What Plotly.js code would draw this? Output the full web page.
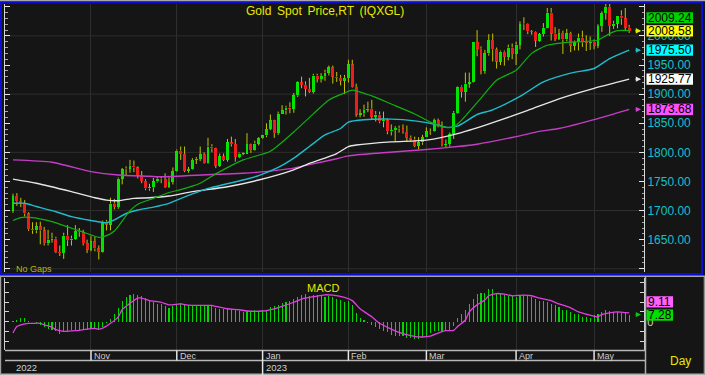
<!DOCTYPE html>
<html>
<head>
<meta charset="utf-8">
<script src="https://cdn.plot.ly/plotly-3.0.1.min.js"></script>
<style>html,body{margin:0;padding:0;background:#151515;overflow:hidden}#chart{width:705px;height:375px}</style>
</head>
<body>
<div id="chart"></div>
<script>
// ---------------- data ----------------
const firstDay = '2022-10-04';
const lastDay = '2023-05-12';

const open = [1700,1725,1716,1712,1695,1668,1666,1673,1666,1644,
1650,1652,1629,1627,1657,1649,1652,1665,1663,1644,
1633,1647,1635,1629,1681,1676,1712,1706,1755,1771,
1772,1777,1774,1761,1751,1738,1740,1750,1755,1754,
1741,1749,1768,1803,1797,1768,1771,1787,1789,1797,
1781,1810,1807,1777,1793,1787,1817,1814,1792,1798,
1798,1814,1804,1815,1824,1829,1840,1855,1833,1866,
1872,1877,1875,1898,1920,1916,1909,1904,1932,1926,
1931,1937,1946,1930,1928,1923,1928,1951,1912,1865,
1867,1873,1875,1861,1865,1853,1855,1836,1838,1842,
1841,1835,1825,1822,1811,1817,1826,1836,1836,1855,
1847,1813,1814,1831,1868,1913,1904,1918,1920,1989,
1978,1940,1970,1993,1977,1956,1973,1964,1980,1969,
1985,2020,2021,2008,2007,1992,2003,2014,2040,2004,
1995,2005,1994,2005,1983,1989,1997,1989,1988,1990,
1983,2017,2039,2050,2017,2021,2035,2030,2014];

const high = [1729,1730,1722,1718,1697,1680,1680,1681,1672,1667,
1662,1655,1640,1662,1675,1657,1675,1670,1667,1650,
1656,1655,1640,1683,1684,1722,1720,1757,1773,1776,
1787,1786,1776,1768,1754,1746,1756,1759,1759,1764,
1757,1774,1805,1810,1810,1775,1790,1792,1810,1800,
1825,1814,1808,1798,1798,1823,1827,1823,1800,1800,
1833,1815,1820,1826,1830,1850,1865,1856,1870,1881,
1880,1886,1902,1922,1930,1922,1928,1935,1935,1936,
1942,1949,1949,1938,1933,1933,1959,1959,1918,1874,
1882,1887,1890,1871,1870,1870,1858,1848,1845,1846,
1848,1846,1829,1827,1826,1830,1843,1841,1858,1858,
1853,1822,1834,1871,1914,1915,1937,1937,1989,2010,
1982,1976,2003,2004,1980,1975,1975,1985,1987,1990,
2025,2032,2022,2010,2008,2005,2022,2048,2048,2015,
2012,2009,2012,2007,1992,2004,2009,2001,1999,1994,
2020,2042,2081,2056,2026,2035,2044,2048,2019];

const low = [1696,1708,1706,1690,1665,1660,1661,1642,1640,1640,
1645,1627,1622,1617,1639,1640,1650,1655,1640,1627,
1630,1630,1616,1628,1666,1666,1702,1703,1745,1761,
1765,1766,1755,1747,1735,1734,1732,1748,1747,1739,
1739,1745,1767,1787,1766,1765,1770,1780,1785,1780,
1780,1800,1773,1775,1785,1784,1810,1784,1790,1795,
1797,1799,1803,1812,1823,1826,1838,1825,1830,1866,
1865,1867,1868,1895,1910,1896,1902,1901,1920,1920,
1923,1932,1918,1921,1915,1900,1920,1911,1861,1860,
1861,1869,1857,1853,1850,1843,1831,1829,1818,1834,
1832,1818,1818,1809,1805,1813,1826,1830,1835,1843,
1810,1809,1810,1823,1867,1894,1887,1911,1919,1965,
1934,1935,1966,1956,1944,1950,1949,1958,1960,1950,
1977,2010,2003,2002,1981,1990,1999,2013,1992,1991,
1993,1969,1991,1972,1975,1975,1981,1974,1976,1977,
1979,2007,2028,2000,2012,2013,2019,2010,2005];

const close = [1725,1716,1712,1695,1668,1666,1673,1666,1644,1650,
1652,1629,1627,1657,1649,1652,1665,1663,1644,1633,
1647,1635,1629,1681,1676,1712,1706,1755,1771,1772,
1777,1774,1761,1751,1738,1740,1750,1755,1754,1741,
1749,1768,1803,1797,1768,1771,1787,1789,1797,1781,
1810,1807,1777,1793,1787,1817,1814,1792,1798,1798,
1814,1804,1815,1824,1829,1840,1855,1833,1866,1872,
1877,1875,1898,1920,1916,1909,1904,1932,1926,1931,
1937,1946,1930,1928,1923,1928,1951,1912,1865,1867,
1873,1875,1861,1865,1853,1855,1836,1838,1842,1841,
1835,1825,1822,1811,1817,1826,1836,1836,1855,1847,
1813,1814,1831,1868,1913,1904,1918,1920,1989,1978,
1940,1970,1993,1977,1956,1973,1964,1980,1969,1985,
2020,2021,2008,2007,1992,2003,2014,2040,2004,1995,
2005,1994,2005,1983,1989,1997,1989,1988,1990,1983,
2017,2039,2050,2017,2021,2035,2030,2014,2008.58];

// moving averages read at sample bars (bar index, value)
const ma20X  = [0,2,5,10,14,18,22,24,26,28,30,32,36,40,43,48,52,59,66,72,77,81,85,87,92,97,103,107,111,113,115,120,124,129,133,137,142,146,150,153,155,158];
const ma20   = [1683,1688,1688,1681,1672,1663,1654,1657,1665,1682,1700,1711,1721,1731,1736,1747,1763,1787,1802,1835,1866,1890,1902,1907,1897,1883,1866,1852,1843,1844,1855,1893,1924,1941,1970,1984,1989,1990,1993,2004,2009,2009.24];
const ma50X  = [0,3,6,11,15,20,24,26,29,32,36,40,42,50,59,63,68,72,76,80,84,86,90,97,103,109,111,114,119,123,130,136,143,149,153,158];
const ma50   = [1712.5,1712.5,1707,1698,1689.5,1683,1679,1684,1695,1701,1706,1712.5,1718,1738,1752.5,1760,1774,1790,1810,1830,1841,1852,1856,1857,1854,1847,1843,1845,1865,1873,1896,1921,1936,1944,1961,1975.50];
const ma100X = [0,6,15,21,24,27,31,35,40,46,55,63,72,76,83,86,88,97,106,115,123,132,140,149,158];
const ma100  = [1754,1747,1732.5,1722,1718,1717,1721,1722,1725,1732.5,1741,1752.5,1770,1781,1798,1810,1812.6,1818,1821,1834,1851,1872,1892,1910,1925.77];
const ma200X = [0,10,20,27,35,38,51,59,63,72,76,83,86,94,106,114,119,129,135,140,150,158];
const ma200  = [1787,1783,1767,1761,1759,1758,1762,1764,1766,1773,1779,1789,1794,1799,1805,1810,1814,1827,1836,1841,1858,1873.68];

// MACD histogram (one per bar) and signal line (sample bars)
const macd = [0.5,2,3.3,3.3,1,0,-1,-3,-5,-7.7,
-8.3,-10,-12.7,-10,-10,-8.3,-8.3,-8.3,-8.3,-8.3,
-7.7,-7.7,-8.7,-5,-1,2.3,8.3,14.3,21,25.7,
27.7,29,27.7,26.7,24,21,20,18.3,18.3,15.7,
14.3,15.7,18.3,19,18.3,17.3,16.7,16.7,15.7,16.7,
17.3,16.7,14.3,13.3,13.3,13.3,12.3,11.7,11,10,
11,10,11.7,11,11.7,12.3,15,15.7,16.7,19,
20,21,23.3,25,28,28.3,26.7,27.7,27.7,26.7,
25.7,26.7,25,23.3,22.3,20,21,16.7,9,4,
1.7,-1.7,-3.3,-5,-7.7,-10,-11,-13.3,-14.3,-15,
-15,-16.7,-16.7,-17.7,-17.7,-16,-14.3,-11.7,-10,-9.3,
-9.3,-10,-8.3,-4.3,4,8.3,12.3,18.3,23.3,29,
30,30,33.3,33.3,29,29,27.3,26.7,26.7,25.7,
26.7,27.7,27.3,25,23.3,21.7,21.7,20,18.3,16.7,
15,12.3,11.7,10,8.3,7.7,5,4.3,4,6.7,
8.3,10,11.7,10.7,10,10,9.3,10,7.28];
const sigX = [0,1,3,4,5,7,8,10,11,13,16,18,21,22,23,25,27,28,30,32,33,35,38,40,43,45,48,51,52,55,58,60,64,67,69,72,74,77,80,82,85,87,89,92,94,97,99,102,104,107,109,111,113,114,116,117,119,121,122,124,126,128,131,133,135,138,140,143,145,148,150,151,153,155,157,158];
const signal = [-11.7,-5,-2.3,-1.7,-1.7,-1.7,-3.3,-5.7,-8.3,-10,-9.3,-8.3,-7,-7.7,-6.7,-1.7,5,12.3,19,24.3,24.3,21.7,20,17.3,18.3,17,16.7,16.7,15.7,13.3,12.3,11,11,13.3,15.7,20,23.3,25.7,27.7,27.3,25,21.7,13.3,5,-1.7,-7.7,-11,-14.3,-15.7,-15,-11.7,-9.3,-9,-5,1.7,10,17.3,22.3,26.7,29,28.3,26.7,27.3,26.7,24.3,21.7,18.3,14.3,10,6.7,5,7.3,9,10,9.3,9.11];

const priceTicks = [1600,1650,1700,1750,1800,1850,1900,1950,2000,2050];
const priceGrid  = [1600,1700,1800,1900,2000];
const macdTicks  = [-20,-10,0,10,20,30,40];

// ---------------- build ----------------
function tradingDays(a, b) {
  const out = [];
  let d = new Date(a + 'T00:00:00Z');
  const e = new Date(b + 'T00:00:00Z');
  while (d <= e) {
    const w = d.getUTCDay();
    if (w > 0 && w < 6) out.push(d.toISOString().slice(0, 10));
    d = new Date(d.getTime() + 86400000);
  }
  return out;
}
const dates = tradingDays(firstDay, lastDay);
const idx = close.map((_, i) => i);
const MON = ['Jan','Feb','Mar','Apr','May','Jun','Jul','Aug','Sep','Oct','Nov','Dec'];
const monthIdx = [], monthLbl = [], yearIdx = [], yearLbl = [];
yearIdx.push(0); yearLbl.push(dates[0].slice(0, 4));
for (let i = 1; i < dates.length; i++) {
  if (dates[i].slice(5, 7) !== dates[i - 1].slice(5, 7)) {
    monthIdx.push(i); monthLbl.push(MON[+dates[i].slice(5, 7) - 1]);
  }
  if (dates[i].slice(0, 4) !== dates[i - 1].slice(0, 4)) {
    yearIdx.push(i); yearLbl.push(dates[i].slice(0, 4));
  }
}

// pixel helpers for frame decoration
const W = 705, H = 375, L = 5, R = 61, T = 4, B = 25;
const PW = W - L - R, PH = H - T - B;
const px = x => (x - L) / PW;
const py = y => (H - B - y) / PH;

const FONT = 'Liberation Sans, Arial, sans-serif';

// wicks split above / below body
const wx = [], wy = [];
for (let i = 0; i < close.length; i++) {
  const top = Math.max(open[i], close[i]), bot = Math.min(open[i], close[i]);
  wx.push(i, i, null, i, i, null);
  wy.push(top, high[i], null, bot, low[i], null);
}
const bodyBase = idx.map(i => Math.min(open[i], close[i]));
const bodyH = idx.map(i => Math.max(Math.abs(close[i] - open[i]), 0.9));
const bodyCol = idx.map(i => close[i] >= open[i] ? '#00e400' : '#ee1c1c');

const traces = [
  {type: 'scatter', mode: 'lines', x: wx, y: wy, line: {color: '#c4c400', width: 1}, hoverinfo: 'skip', xaxis: 'x', yaxis: 'y'},
  {type: 'bar', x: idx, y: bodyH, base: bodyBase, width: 0.76, marker: {color: bodyCol, line: {width: 0}}, xaxis: 'x', yaxis: 'y'},
  {type: 'scatter', mode: 'lines', x: ma200X, y: ma200, line: {color: '#c63cc6', width: 1.4, shape: 'spline', smoothing: 0.6}, xaxis: 'x', yaxis: 'y'},
  {type: 'scatter', mode: 'lines', x: ma100X, y: ma100, line: {color: '#e6e6e6', width: 1.4, shape: 'spline', smoothing: 0.6}, xaxis: 'x', yaxis: 'y'},
  {type: 'scatter', mode: 'lines', x: ma50X, y: ma50, line: {color: '#1ebccc', width: 1.4, shape: 'spline', smoothing: 0.6}, xaxis: 'x', yaxis: 'y'},
  {type: 'scatter', mode: 'lines', x: ma20X, y: ma20, line: {color: '#10b010', width: 1.2, shape: 'spline', smoothing: 0.6}, xaxis: 'x', yaxis: 'y'},
  {type: 'bar', x: idx, y: macd, width: 0.3, marker: {color: '#00d800', line: {width: 0}}, xaxis: 'x2', yaxis: 'y2'},
  {type: 'scatter', mode: 'lines', x: sigX, y: signal, line: {color: '#e040e0', width: 1.3, shape: 'spline', smoothing: 0.6}, xaxis: 'x2', yaxis: 'y2'}
];

const xr = [-2.05, 161.8];
const shapes = [];
// horizontal price gridlines
priceGrid.forEach(v => shapes.push({type: 'line', xref: 'paper', x0: 0, x1: 1, yref: 'y', y0: v, y1: v, layer: 'below', line: {color: '#2e2e2e', width: 1}}));
// frame
shapes.push({type: 'rect', xref: 'paper', yref: 'paper', x0: px(1), x1: px(702), y0: py(274), y1: py(2.5), line: {color: '#0c0cd2', width: 2}});
shapes.push({type: 'line', xref: 'paper', yref: 'paper', x0: px(0), x1: px(705), y0: py(0.6), y1: py(0.6), line: {color: '#a8a8a8', width: 1.3}});
shapes.push({type: 'line', xref: 'paper', yref: 'paper', x0: px(0), x1: px(705), y0: py(276.2), y1: py(276.2), line: {color: '#a4a4a4', width: 1.5}});
shapes.push({type: 'line', xref: 'paper', yref: 'paper', x0: px(5), x1: px(645), y0: py(350.5), y1: py(350.5), line: {color: '#b8b8b8', width: 1.5}});
shapes.push({type: 'line', xref: 'paper', yref: 'paper', x0: px(5), x1: px(645), y0: py(360.6), y1: py(360.6), line: {color: '#b8b8b8', width: 1.5}});
shapes.push({type: 'line', xref: 'paper', yref: 'paper', x0: px(645.5), x1: px(645.5), y0: py(276), y1: py(375), line: {color: '#b0b0b0', width: 1.5}});
shapes.push({type: 'line', xref: 'paper', yref: 'paper', x0: px(0), x1: px(705), y0: py(374.3), y1: py(374.3), line: {color: '#b0b0b0', width: 1.5}});
shapes.push({type: 'line', xref: 'paper', yref: 'paper', x0: px(0.6), x1: px(0.6), y0: py(276), y1: py(375), line: {color: '#a0a0a0', width: 1.2}});
shapes.push({type: 'line', xref: 'paper', yref: 'paper', x0: px(704.3), x1: px(704.3), y0: py(276), y1: py(375), line: {color: '#a0a0a0', width: 1.2}});
// month tick lines in the date strip
monthIdx.forEach(i => {
  const isYear = yearIdx.indexOf(i) >= 0;
  shapes.push({type: 'line', xref: 'x2', x0: i, x1: i, yref: 'paper', y0: py(350.5), y1: py(isYear ? 375 : 360.6), line: {color: '#e4e4e4', width: 1.5}});
});

const annotations = [];
annotations.push({xref: 'paper', yref: 'paper', x: px(324.5), y: py(11), text: 'Gold \u2009Spot \u2009Price,RT \u2009(IQXGL)', showarrow: false, xanchor: 'center', yanchor: 'middle', font: {family: FONT, size: 12, color: '#e8e800'}});
annotations.push({xref: 'paper', yref: 'paper', x: px(14), y: py(268.5), text: 'No Gaps', showarrow: false, xanchor: 'left', yanchor: 'middle', font: {family: FONT, size: 9, color: '#b8b800'}});
annotations.push({xref: 'paper', yref: 'paper', x: px(323), y: py(287.5), text: 'MACD', showarrow: false, xanchor: 'center', yanchor: 'middle', font: {family: FONT, size: 11, color: '#e8e800'}});
annotations.push({xref: 'paper', yref: 'paper', x: px(668), y: py(361), text: 'Day', showarrow: false, xanchor: 'left', yanchor: 'middle', font: {family: FONT, size: 12, color: '#e8e800'}});
monthIdx.forEach((i, k) => annotations.push({xref: 'x2', x: i, xshift: 1, yref: 'paper', y: py(355.8), text: monthLbl[k], showarrow: false, xanchor: 'left', yanchor: 'middle', font: {family: FONT, size: 9, color: '#d0d0d0'}}));
yearIdx.forEach((i, k) => annotations.push({xref: 'x2', x: i, xshift: 1, yref: 'paper', y: py(367.5), text: yearLbl[k], showarrow: false, xanchor: 'left', yanchor: 'middle', font: {family: FONT, size: 9.5, color: '#d0d0d0'}}));

// value tags on the right
const tags = [
  {v: ma20[ma20.length - 1], bg: '#00d200', shift: 12.8, ax: 'y', arrow: '#10c010'},
  {v: close[close.length - 1], bg: '#ffff00', shift: 0, ax: 'y', arrow: '#e8e800'},
  {v: ma50[ma50.length - 1], bg: '#00ffff', shift: 0, ax: 'y', arrow: '#1ebccc'},
  {v: ma100[ma100.length - 1], bg: '#ffffff', shift: 0, ax: 'y', arrow: '#e6e6e6'},
  {v: ma200[ma200.length - 1], bg: '#ff50ff', shift: 0, ax: 'y', arrow: '#d040d0'},
  {v: signal[signal.length - 1], bg: '#ff60ff', shift: 11, ax: 'y2', arrow: null, x1: 673},
  {v: macd[macd.length - 1], bg: '#00e000', shift: -0.5, ax: 'y2', arrow: '#10c010', x1: 673}
];
tags.forEach(t => {
  shapes.push({type: 'rect', xref: 'paper', x0: px(646.5), x1: px(t.x1 || 693), yref: t.ax, ysizemode: 'pixel', yanchor: t.v, y0: t.shift - 5.6, y1: t.shift + 5.6, fillcolor: t.bg, line: {width: 0}, layer: 'above'});
  annotations.push({xref: 'paper', x: px(647), yref: t.ax, y: t.v, yshift: t.shift, text: t.v.toFixed(2), showarrow: false, xanchor: 'left', yanchor: 'middle', borderpad: 0, font: {family: FONT, size: 12, color: '#000000'}});
  if (t.arrow) annotations.push({xref: 'paper', x: px(641), yref: t.ax, y: t.v, text: '', showarrow: true, ax: -7, ay: 0, arrowhead: 2, arrowsize: 0.8, arrowwidth: 1.3, arrowcolor: t.arrow});
});

const axisCommon = {showgrid: false, zeroline: false, fixedrange: true};
const layout = {
  width: W, height: H,
  margin: {l: L, r: R, t: T, b: B},
  paper_bgcolor: '#151515', plot_bgcolor: '#151515',
  font: {family: FONT},
  showlegend: false, hovermode: false, barmode: 'overlay', bargap: 0,
  xaxis: Object.assign({}, axisCommon, {domain: [0, 1], anchor: 'y', range: xr, tickmode: 'array', tickvals: monthIdx, showticklabels: false, ticks: '', showgrid: true, gridcolor: '#2e2e2e', gridwidth: 1}),
  xaxis2: Object.assign({}, axisCommon, {domain: [0, 1], anchor: 'y2', range: xr, tickmode: 'array', tickvals: monthIdx, showticklabels: false, ticks: '', showgrid: true, gridcolor: '#2e2e2e', gridwidth: 1}),
  yaxis: Object.assign({}, axisCommon, {
    domain: [py(272), 1], anchor: 'x', side: 'right', range: [1594.5, 2054.8],
    tickmode: 'array', tickvals: priceTicks,
    ticktext: priceTicks.map(v => (v === 1600 || v === 2050) ? '' : v.toFixed(2)),
    ticks: 'inside', ticklen: 5, tickwidth: 1, tickcolor: '#e6e6e6',
    showline: true, linecolor: '#d8d8d8', linewidth: 1, mirror: 'ticks',
    tickfont: {family: FONT, size: 12, color: '#14c0cc'},
    minor: {tickmode: 'linear', tick0: 1600, dtick: 10, ticks: 'inside', ticklen: 2.5, tickcolor: '#a8a8a8', showgrid: false}
  }),
  yaxis2: Object.assign({}, axisCommon, {
    domain: [0, py(278)], anchor: 'x2', side: 'right', range: [-29.2, 45],
    tickmode: 'array', tickvals: macdTicks, ticktext: macdTicks.map(v => v === 0 ? '0' : ''),
    ticks: 'inside', ticklen: 4, tickwidth: 1, tickcolor: '#d8d8d8',
    showline: true, linecolor: '#d0d0d0', linewidth: 1, mirror: 'ticks',
    tickfont: {family: FONT, size: 11, color: '#d0d0d0'}
  }),
  shapes: shapes,
  annotations: annotations
};

Plotly.newPlot('chart', traces, layout, {displayModeBar: false, staticPlot: true});
</script>
</body>
</html>
